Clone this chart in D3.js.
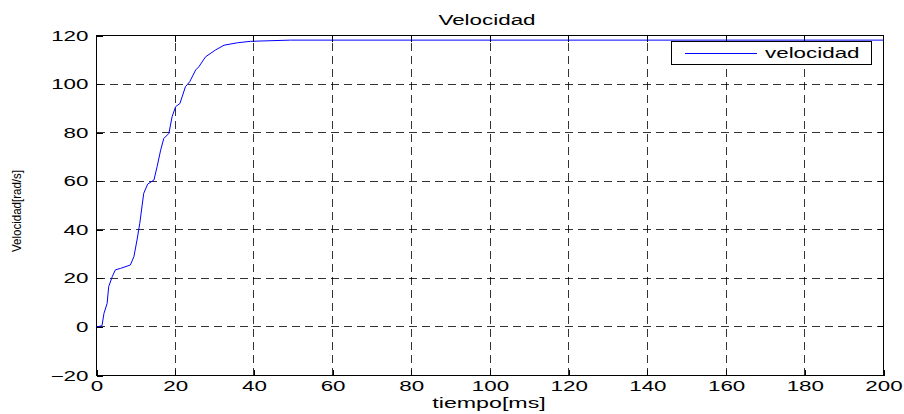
<!DOCTYPE html>
<html>
<head>
<meta charset="utf-8">
<script src="https://cdn.jsdelivr.net/npm/d3@7"></script>
<style>
  body { margin: 0; background: #fff; }
  svg { display: block; font-family: "Liberation Sans", Arial, sans-serif; }
</style>
</head>
<body>
<svg id="chart" width="904" height="414"></svg>
<script>
// datos
var tiempo = [0, 1.4, 1.9, 2.7, 3.1, 4.0, 4.8, 6.1, 8.6, 9.5, 10.3, 11.0, 12.0, 13.0, 14.6, 15.4,
  16.3, 17.1, 18.4, 19.2, 20.1, 21.2, 22.6, 23.7, 25.2, 26.0, 27.7, 30.2, 32.4, 35.8, 39.1, 49.3, 200];
var velocidad = [0, 0.5, 5.6, 9.7, 16.6, 20.7, 23.5, 24.1, 25.5, 28.9, 35.8, 42.7, 55.0, 58.8, 60.5, 66.0,
  72.8, 77.6, 79.7, 86.5, 90.7, 92.0, 98.9, 101.0, 105.8, 107.1, 111.2, 114.0, 116.0, 117.0, 117.6, 118.1, 118.1];
var xTicks = [0, 20, 40, 60, 80, 100, 120, 140, 160, 180, 200];
var yTicks = [-20, 0, 20, 40, 60, 80, 100, 120];
var titulo = "Velocidad";
var xLabel = "tiempo[ms]";
var yLabel = "Velocidad[rad/s]";
var leyenda = "velocidad";

var svg = d3.select("#chart");
var margin = {top: 35, right: 21, bottom: 39, left: 96};
var W = 904, H = 414;
var SX = 1.6; // estiramiento horizontal del texto

var x = d3.scaleLinear().domain([0, 200]).range([margin.left + 0.5, W - margin.right + 0.5]);
var y = d3.scaleLinear().domain([-20, 120]).range([H - margin.bottom + 0.5, margin.top + 0.5]);

// rejilla
var grid = svg.append("g")
    .attr("stroke", "#000")
    .attr("stroke-opacity", 0.8)
    .attr("stroke-dasharray", "8,5")
    .attr("shape-rendering", "crispEdges");
grid.selectAll("line.v").data(xTicks).enter().append("line")
    .attr("x1", d => x(d)).attr("x2", d => x(d))
    .attr("y1", y(-20)).attr("y2", y(120));
grid.selectAll("line.h").data(yTicks).enter().append("line")
    .attr("x1", x(0)).attr("x2", x(200))
    .attr("y1", d => y(d)).attr("y2", d => y(d));

// curva
var line = d3.line()
    .x((d, i) => x(tiempo[i]))
    .y(d => y(d));
svg.append("path")
    .datum(velocidad)
    .attr("fill", "none")
    .attr("stroke", "#0000ff")
    .attr("stroke-width", 1)
    .attr("d", line);

// ejes
var xAxis = svg.append("g")
    .attr("transform", "translate(0," + y(-20) + ")")
    .call(d3.axisBottom(x).tickValues(xTicks).tickSizeInner(-6).tickSizeOuter(0).tickPadding(6));
var yAxis = svg.append("g")
    .attr("transform", "translate(" + x(0) + ",0)")
    .call(d3.axisLeft(y).tickValues(yTicks).tickSizeInner(-6).tickSizeOuter(0).tickPadding(5));

[xAxis, yAxis].forEach(function(g) {
  g.select(".domain").remove();
  g.selectAll("line").attr("stroke", "#000").attr("shape-rendering", "crispEdges");
  g.selectAll("text")
      .attr("font-size", 14)
      .attr("font-family", "Liberation Sans, Arial, sans-serif")
      .attr("fill", "#000")
      .attr("transform", "scale(" + SX + ",1)");
});
yAxis.selectAll("text").attr("dy", "0.33em");

// ticks arriba y derecha
svg.append("g").selectAll("line").data(xTicks).enter().append("line")
    .attr("x1", d => x(d)).attr("x2", d => x(d))
    .attr("y1", y(120)).attr("y2", y(120) + 6)
    .attr("stroke", "#000").attr("shape-rendering", "crispEdges");
svg.append("g").selectAll("line").data(yTicks).enter().append("line")
    .attr("x1", x(200)).attr("x2", x(200) - 6)
    .attr("y1", d => y(d)).attr("y2", d => y(d))
    .attr("stroke", "#000").attr("shape-rendering", "crispEdges");

// caja
svg.append("rect")
    .attr("x", x(0)).attr("y", y(120))
    .attr("width", x(200) - x(0)).attr("height", y(-20) - y(120))
    .attr("fill", "none").attr("stroke", "#000").attr("stroke-width", 1)
    .attr("shape-rendering", "crispEdges");

function stretched(px, py, txt, anchor, size) {
  return svg.append("text")
      .attr("transform", "translate(" + px + "," + py + ") scale(" + SX + ",1)")
      .attr("text-anchor", anchor)
      .attr("font-size", size)
      .attr("fill", "#000")
      .text(txt);
}

// titulo y etiquetas
stretched(487, 25, titulo, "middle", 14);
stretched(489, 408, xLabel, "middle", 14.5);
svg.append("text")
    .attr("transform", "translate(21,211) rotate(-90)")
    .attr("text-anchor", "middle")
    .attr("font-size", 12.5)
    .attr("textLength", 82)
    .attr("lengthAdjust", "spacingAndGlyphs")
    .attr("fill", "#000")
    .text(yLabel);

// leyenda
var lg = svg.append("g");
lg.append("rect")
    .attr("x", 671.5).attr("y", 41.5).attr("width", 200).attr("height", 23)
    .attr("fill", "#fff").attr("stroke", "#000").attr("shape-rendering", "crispEdges");
lg.append("line")
    .attr("x1", 685).attr("x2", 757).attr("y1", 53.5).attr("y2", 53.5)
    .attr("stroke", "#0000ff").attr("stroke-width", 1);
stretched(765, 58, leyenda, "start", 14);
</script>
</body>
</html>
